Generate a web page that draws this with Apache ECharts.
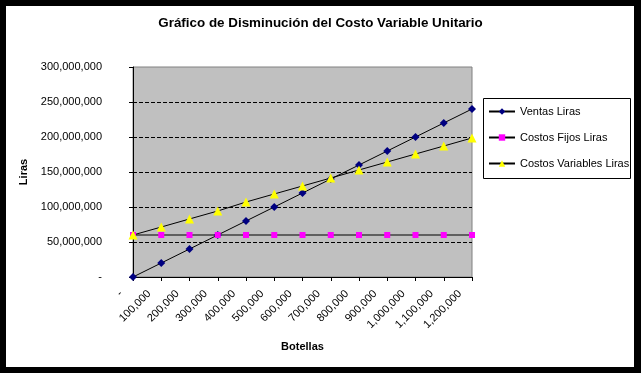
<!DOCTYPE html>
<html>
<head>
<meta charset="utf-8">
<script src="https://cdn.jsdelivr.net/npm/echarts@6/dist/echarts.min.js"></script>
<style>
  html, body { margin: 0; padding: 0; background: #000; }
  #wrap { position: relative; width: 641px; height: 373px; background: #000; overflow: hidden; }
  #paper { position: absolute; left: 6px; top: 6px; width: 628px; height: 361px; background: #fff; }
  #chart { position: absolute; left: 0; top: 0; width: 641px; height: 373px; }
</style>
</head>
<body>
<div id="wrap">
  <div id="paper"></div>
  <div id="chart"></div>
</div>
<script>
const titleText = 'Gráfico de Disminución del Costo Variable Unitario';
const categories = ['-', '100,000', '200,000', '300,000', '400,000', '500,000', '600,000',
  '700,000', '800,000', '900,000', '1,000,000', '1,100,000', '1,200,000'];
const ventasLiras = [0, 20000000, 40000000, 60000000, 80000000, 100000000, 120000000,
  140000000, 160000000, 180000000, 200000000, 220000000, 240000000];
const costosFijosLiras = [60000000, 60000000, 60000000, 60000000, 60000000, 60000000, 60000000,
  60000000, 60000000, 60000000, 60000000, 60000000, 60000000];
const costosVariablesLiras = [60000000, 71400000, 82900000, 94300000, 107100000, 118600000, 130000000,
  141400000, 152900000, 164300000, 175700000, 187100000, 198600000];
const yTickValues = [0, 50000000, 100000000, 150000000, 200000000, 250000000, 300000000];
const yTickLabels = ['-', '50,000,000', '100,000,000', '150,000,000', '200,000,000', '250,000,000', '300,000,000'];

const FONT = 'Arial, "Liberation Sans", sans-serif';
const chart = echarts.init(document.getElementById('chart'), null, { renderer: 'canvas' });

chart.setOption({
  animation: false,
  backgroundColor: 'transparent',
  title: {
    text: titleText,
    left: 'center',
    top: 12,
    textStyle: { fontFamily: FONT, fontSize: 13.4, fontWeight: 'bold', color: '#000' }
  },
  grid: {
    left: 133, right: 169, top: 67, bottom: 96,
    containLabel: false,
    outerBoundsMode: 'none',
    show: true,
    backgroundColor: '#C0C0C0',
    borderColor: '#808080',
    borderWidth: 1
  },
  legend: {
    orient: 'vertical',
    left: 483,
    top: 101,
    padding: 5,
    itemWidth: 26,
    itemHeight: 8,
    itemGap: 15,
    textStyle: { fontFamily: FONT, fontSize: 11, color: '#000' },
    data: ['Ventas Liras', 'Costos Fijos Liras', 'Costos Variables Liras']
  },
  graphic: [{
    type: 'rect',
    shape: { x: 483.5, y: 98.5, width: 147, height: 80 },
    style: { fill: 'none', stroke: '#000', lineWidth: 1 },
    silent: true
  }],
  xAxis: {
    type: 'category',
    data: categories,
    boundaryGap: false,
    name: 'Botellas',
    nameLocation: 'middle',
    nameGap: 64,
    nameTextStyle: { fontFamily: FONT, fontSize: 11, fontWeight: 'bold', color: '#000' },
    axisLine: { lineStyle: { color: '#000', width: 1 } },
    axisTick: { show: true, inside: false, length: 4, interval: 0, lineStyle: { color: '#000' } },
    axisLabel: {
      interval: 0, rotate: 45, margin: 3, padding: [0, 17, 0, 0],
      fontFamily: FONT, fontSize: 11, color: '#000'
    },
    splitLine: { show: false }
  },
  yAxis: {
    type: 'value',
    min: 0,
    max: 300000000,
    interval: 50000000,
    name: 'Liras',
    nameLocation: 'middle',
    nameGap: 101,
    nameTextStyle: { fontFamily: FONT, fontSize: 11, fontWeight: 'bold', color: '#000' },
    axisLine: { show: true, lineStyle: { color: '#000', width: 1 } },
    axisTick: { show: true, inside: false, length: 4, lineStyle: { color: '#000' } },
    axisLabel: {
      margin: 31,
      fontFamily: FONT, fontSize: 11, color: '#000',
      formatter: function (v) {
        const i = yTickValues.indexOf(v);
        return i >= 0 ? yTickLabels[i] : '';
      }
    },
    splitLine: {
      show: true, showMinLine: false, showMaxLine: false,
      lineStyle: { color: '#000', width: 1, type: [4, 2] }
    }
  },
  series: [
    {
      name: 'Ventas Liras', type: 'line', data: ventasLiras,
      symbol: 'diamond', symbolSize: 8, showAllSymbol: true,
      itemStyle: { color: '#000080', borderWidth: 0 },
      lineStyle: { color: '#000', width: 1 }
    },
    {
      name: 'Costos Fijos Liras', type: 'line', data: costosFijosLiras,
      symbol: 'rect', symbolSize: 6, showAllSymbol: true,
      itemStyle: { color: '#FF00FF', borderWidth: 0 },
      lineStyle: { color: '#000', width: 1 }
    },
    {
      name: 'Costos Variables Liras', type: 'line', data: costosVariablesLiras,
      symbol: 'triangle', symbolSize: 9, showAllSymbol: true,
      itemStyle: { color: '#FFFF00', borderWidth: 0 },
      lineStyle: { color: '#000', width: 1 }
    }
  ]
});
</script>
</body>
</html>
